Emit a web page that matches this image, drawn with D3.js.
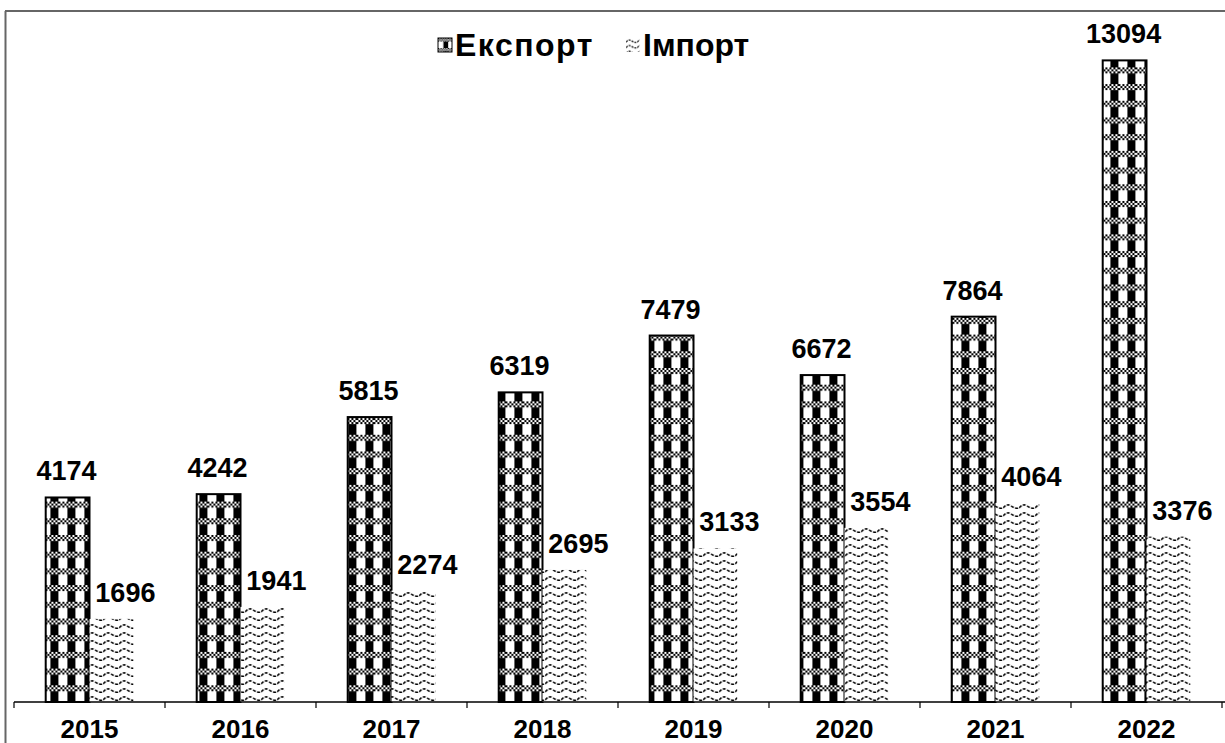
<!DOCTYPE html>
<html>
<head>
<meta charset="utf-8">
<script src="https://cdn.jsdelivr.net/npm/d3@7"></script>
<style>
  html, body { margin: 0; padding: 0; background: #fff; }
  svg { display: block; font-family: Arial, "Liberation Sans", sans-serif; }
</style>
</head>
<body>
<div id="chart"></div>
<script>
var years = ["2015", "2016", "2017", "2018", "2019", "2020", "2021", "2022"];
var seriesNames = ["Експорт", "Імпорт"];
var exportValues = [4174, 4242, 5815, 6319, 7479, 6672, 7864, 13094];
var importValues = [1696, 1941, 2274, 2695, 3133, 3554, 4064, 3376];

var width = 1225, height = 743;
var plot = { left: 14, right: 1222, top: 16, bottom: 702 };

var svg = d3.select('#chart').append('svg')
  .attr('xmlns', 'http://www.w3.org/2000/svg')
  .attr('width', width)
  .attr('height', height);

var defs = svg.append('defs');

// export: checker band + black blocks
function makeExportPattern(id, x0, y0, k) {
  k = k || 1;
  var w = 17 * k, h = 16.7 * k;
  var p = defs.append('pattern')
    .attr('id', id)
    .attr('patternUnits', 'userSpaceOnUse')
    .attr('x', x0).attr('y', y0)
    .attr('width', w).attr('height', h);
  p.append('rect').attr('width', w).attr('height', h).attr('fill', '#fff');
  for (var r = 0; r < 3; r++) {
    for (var c = 0; c < 9; c++) {
      if ((r + c) % 2 === 0) {
        p.append('rect').attr('x', c * 2 * k).attr('y', r * 2 * k)
          .attr('width', 2 * k).attr('height', 2 * k).attr('fill', '#000');
      }
    }
  }
  p.append('rect').attr('x', 9 * k).attr('y', 6 * k)
    .attr('width', 8 * k).attr('height', 10.7 * k).attr('fill', '#000');
}

// import: dashed waves
function makeImportPattern(id, x0, y0, k) {
  k = k || 1;
  var p = defs.append('pattern')
    .attr('id', id)
    .attr('patternUnits', 'userSpaceOnUse')
    .attr('x', x0).attr('y', y0)
    .attr('width', 16 * k).attr('height', 8 * k);
  p.append('rect').attr('width', 16 * k).attr('height', 8 * k).attr('fill', '#fff');
  p.append('path')
    .attr('d', 'M0,6 Q4,1 8,4 T16,6')
    .attr('transform', 'scale(' + k + ')')
    .attr('fill', 'none')
    .attr('stroke', '#000')
    .attr('stroke-width', 1.5)
    .attr('stroke-dasharray', '3,1.5');
}

var x0 = d3.scaleBand().domain(years).range([plot.left, plot.right])
  .paddingInner(0.42).paddingOuter(0.21);
var x1 = d3.scaleBand().domain(seriesNames).range([0, x0.bandwidth()]);
var y = d3.scaleLinear().domain([0, 14000]).range([plot.bottom, plot.top]);

// outer frame
svg.append('line').attr('x1', 5).attr('x2', width).attr('y1', 11).attr('y2', 11)
  .attr('stroke', '#333').attr('stroke-width', 1.5);
svg.append('line').attr('x1', 5.5).attr('x2', 5.5).attr('y1', 11).attr('y2', height)
  .attr('stroke', '#666').attr('stroke-width', 2);

var rows = years.map(function(yr, i) {
  return [
    { year: yr, s: seriesNames[0], v: exportValues[i], i: i },
    { year: yr, s: seriesNames[1], v: importValues[i], i: i }
  ];
});

rows.forEach(function(r) {
  makeExportPattern('exp' + r[0].i, x0(r[0].year) + x1(r[0].s) + 1, plot.bottom);
  makeImportPattern('imp' + r[1].i, x0(r[1].year) + x1(r[1].s), plot.bottom);
});
makeExportPattern('expLeg', 438, 38, 0.6);
makeImportPattern('impLeg', 626, 38, 0.7);

var groups = svg.selectAll('g.year').data(rows).enter().append('g')
  .attr('class', 'year')
  .attr('transform', function(d) { return 'translate(' + x0(d[0].year) + ',0)'; });

groups.selectAll('rect').data(function(d) { return d; }).enter().append('rect')
  .attr('x', function(d) { return x1(d.s); })
  .attr('y', function(d) { return y(d.v); })
  .attr('width', x1.bandwidth())
  .attr('height', function(d) { return y(0) - y(d.v); })
  .attr('fill', function(d) { return d.s === seriesNames[0] ? 'url(#exp' + d.i + ')' : 'url(#imp' + d.i + ')'; })
  .attr('stroke', function(d) { return d.s === seriesNames[0] ? '#000' : 'none'; })
  .attr('stroke-width', 2);

groups.selectAll('text').data(function(d) { return d; }).enter().append('text')
  .attr('x', function(d) { return x1(d.s) + x1.bandwidth() / 2 + (d.s === seriesNames[1] ? 14 : -1); })
  .attr('y', function(d) { return y(d.v) - 17; })
  .attr('text-anchor', 'middle')
  .attr('font-size', '27px')
  .attr('font-weight', 'bold')
  .attr('fill', '#000')
  .text(function(d) { return d.v; });

// x axis
svg.append('line').attr('x1', plot.left).attr('x2', width)
  .attr('y1', plot.bottom).attr('y2', plot.bottom)
  .attr('stroke', '#000').attr('stroke-width', 1.5);
var step = x0.step();
var tickPos = d3.range(years.length + 1).map(function(i) { return plot.left + i * step; });
svg.selectAll('line.tick').data(tickPos).enter().append('line')
  .attr('class', 'tick')
  .attr('x1', function(d) { return d; }).attr('x2', function(d) { return d; })
  .attr('y1', plot.bottom).attr('y2', plot.bottom + 6)
  .attr('stroke', '#000').attr('stroke-width', 1.2);
svg.selectAll('text.xlab').data(years).enter().append('text')
  .attr('class', 'xlab')
  .attr('x', function(d) { return x0(d) + x0.bandwidth() / 2; })
  .attr('y', 738)
  .attr('text-anchor', 'middle')
  .attr('font-size', '26px')
  .attr('font-weight', 'bold')
  .text(function(d) { return d; });

// legend
var legend = [
  { name: seriesNames[0], fill: 'url(#expLeg)', sx: 438, tx: 455, ls: 1.5 },
  { name: seriesNames[1], fill: 'url(#impLeg)', sx: 626, tx: 643, ls: 0 }
];
var lg = svg.selectAll('g.legend').data(legend).enter().append('g').attr('class', 'legend');
lg.append('rect')
  .attr('x', function(d) { return d.sx; }).attr('y', 38)
  .attr('width', 14).attr('height', 14)
  .attr('fill', function(d) { return d.fill; })
  .attr('stroke', function(d, i) { return i === 0 ? '#000' : 'none'; })
  .attr('stroke-width', 1);
lg.append('text')
  .attr('x', function(d) { return d.tx; }).attr('y', 56)
  .attr('font-size', '32px')
  .attr('font-weight', 'bold')
  .attr('letter-spacing', function(d) { return d.ls; })
  .text(function(d) { return d.name; });
</script>
</body>
</html>
